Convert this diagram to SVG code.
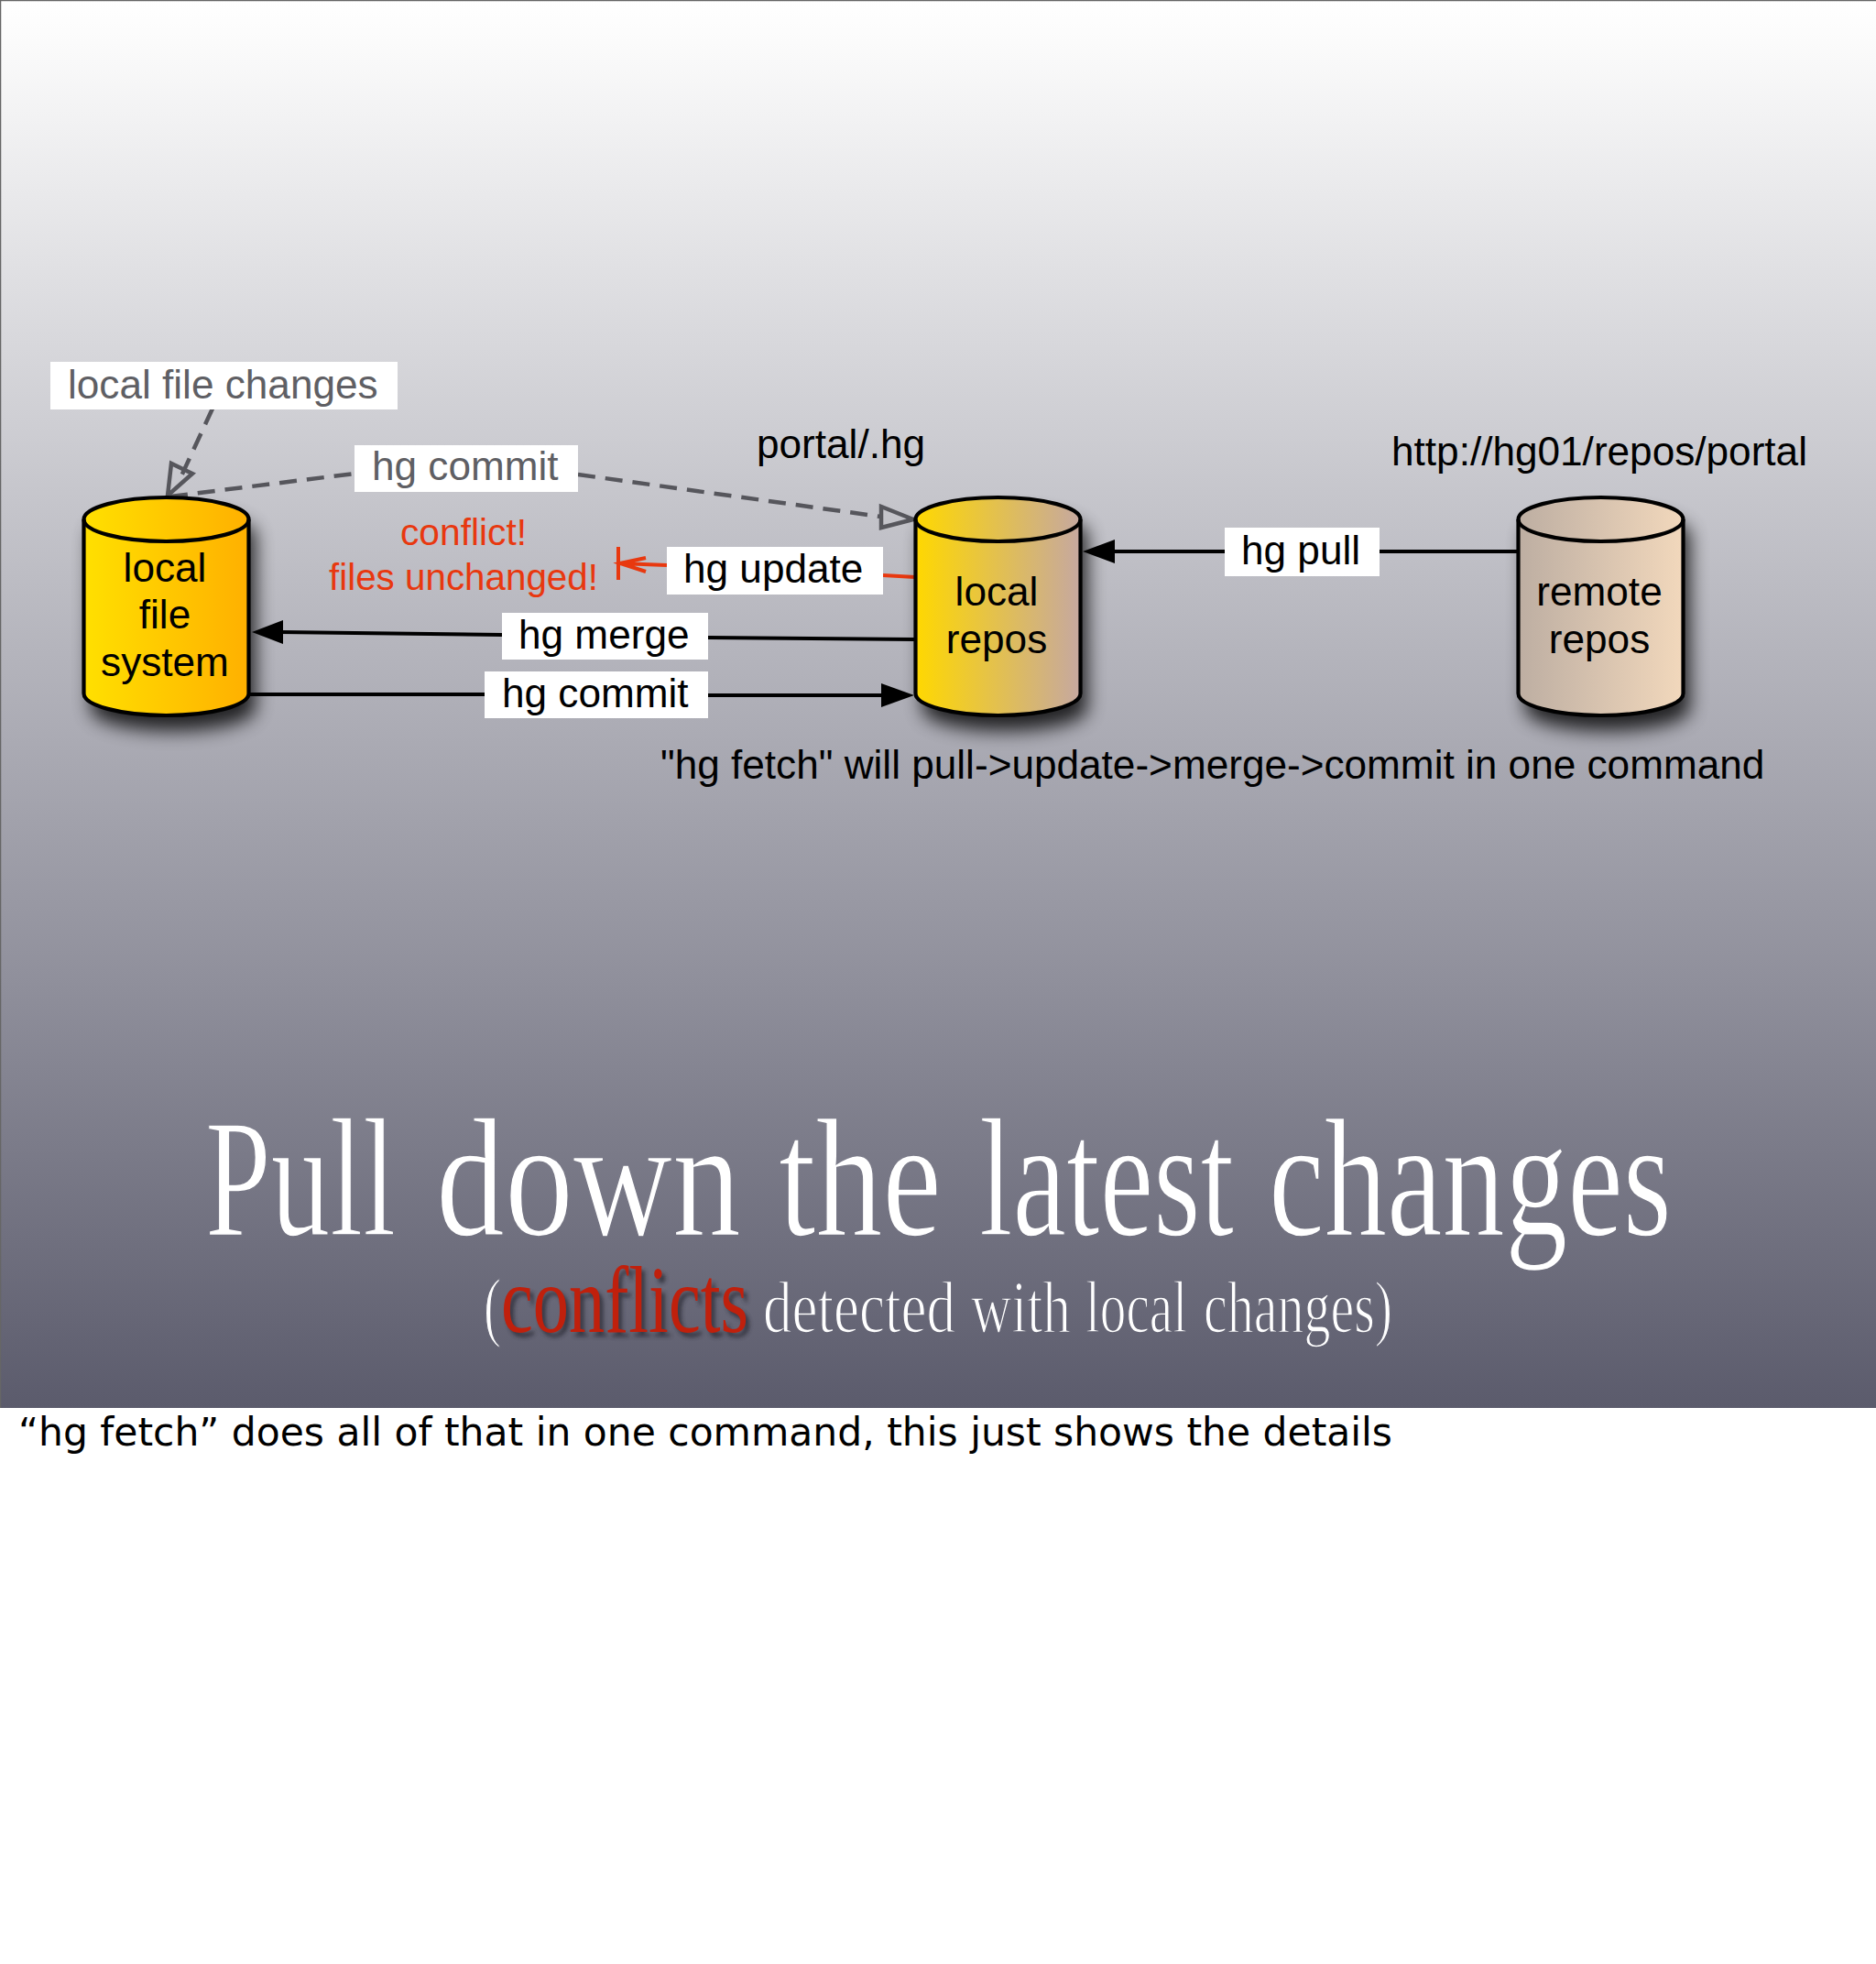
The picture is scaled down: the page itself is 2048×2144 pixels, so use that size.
<svg xmlns="http://www.w3.org/2000/svg" width="2048" height="2144" viewBox="0 0 2048 2144">
<style>
.l{font-family:"Liberation Sans",Arial,sans-serif;font-size:44.15px;fill:#000}
.g{fill:#5f5f64}
.r{fill:#e8380f;font-size:41px}
.m{text-anchor:middle}
.lb{fill:#fff}
.cy{stroke:#000;stroke-width:4.200}
.k{fill:none;stroke:#000;stroke-width:4}
.d{fill:none;stroke:#56565c;stroke-width:4.500;stroke-dasharray:19 11}
.t{font-family:"Liberation Serif",serif;fill:#fff;stroke:url(#bgu);stroke-width:1.600}
.s{font-family:"Liberation Serif",serif}
</style>
<defs>
<linearGradient id="bg" x1="0" y1="0" x2="0" y2="1">
<stop offset="0" stop-color="#ffffff"/><stop offset="0.03" stop-color="#fbfbfb"/><stop offset="0.35" stop-color="#c6c6cc"/><stop offset="0.7" stop-color="#8f8f9b"/><stop offset="1" stop-color="#5b5b6c"/>
</linearGradient>
<linearGradient id="bgu" gradientUnits="userSpaceOnUse" x1="0" y1="0" x2="0" y2="1537">
<stop offset="0" stop-color="#ffffff"/><stop offset="0.03" stop-color="#fbfbfb"/><stop offset="0.35" stop-color="#c6c6cc"/><stop offset="0.7" stop-color="#8f8f9b"/><stop offset="1" stop-color="#5b5b6c"/>
</linearGradient>
<linearGradient id="c1"><stop offset="0" stop-color="#ffe000"/><stop offset="1" stop-color="#ffb000"/></linearGradient>
<linearGradient id="c2"><stop offset="0" stop-color="#ffd800"/><stop offset="1" stop-color="#c6a8a0"/></linearGradient>
<linearGradient id="c3"><stop offset="0" stop-color="#bdaea2"/><stop offset="1" stop-color="#f2d8bc"/></linearGradient>
<filter id="sh" x="-30%" y="-30%" width="170%" height="160%"><feGaussianBlur stdDeviation="10"/></filter>
<filter id="ts" x="-10%" y="-30%" width="120%" height="170%"><feGaussianBlur stdDeviation="2"/></filter>
<path id="cyl" d="M0 24V214C0 227 40 238 90 238S180 227 180 214V24C180 11 140 0 90 0S0 11 0 24Z"/>
</defs>
<rect width="2048" height="2144" fill="#fff"/>
<rect width="2048" height="1537" fill="url(#bg)"/>
<path d="M0.500 1537V0.500H2048" fill="none" stroke="#666" stroke-width="1.500"/>

<g id="connectors">
<path class="d" d="M232 446L195 526"/>
<path d="M183 541L187 506L210 517Z" fill="none" stroke="#56565c" stroke-width="4.500"/>
<path class="d" d="M186 542L387 517"/>
<path class="d" d="M631 518L962 564"/>
<path d="M997 567L962 553L962 576Z" fill="none" stroke="#56565c" stroke-width="4.500"/>
<path d="M675 597V633M728 617L677 615M705 609L677 615L705 624" fill="none" stroke="#e8380f" stroke-width="4"/>
<path d="M964 628L999 630" fill="none" stroke="#e8380f" stroke-width="4"/>
<path class="k" d="M999 698L773 696"/>
<path class="k" d="M548 693L305 690"/>
<path d="M275 690L309 677V703Z"/>
<path class="k" d="M273 758H529"/>
<path class="k" d="M773 759H965"/>
<path d="M998 759L962 746V772Z"/>
<path class="k" d="M1657 602H1506"/>
<path class="k" d="M1337 602H1215"/>
<path d="M1182 602L1217 589V615Z"/>
</g>

<g id="local-file-system">
<use href="#cyl" x="99" y="560" fill="#000" opacity=".8" filter="url(#sh)"/>
<use href="#cyl" x="91.500" y="543" fill="url(#c1)" class="cy"/>
<path d="M91.500 567C91.500 580 131.500 591 181.500 591S271.500 580 271.500 567" fill="none" class="cy"/>
<text class="l m" x="180" y="635">local</text>
<text class="l m" x="180" y="686">file</text>
<text class="l m" x="180" y="738">system</text>
</g>
<g id="local-repos">
<use href="#cyl" x="1007" y="560" fill="#000" opacity=".8" filter="url(#sh)"/>
<use href="#cyl" x="999.500" y="543" fill="url(#c2)" class="cy"/>
<path d="M999.500 567C999.500 580 1039.500 591 1089.500 591S1179.500 580 1179.500 567" fill="none" class="cy"/>
<text class="l m" x="1088" y="661">local</text>
<text class="l m" x="1088" y="713">repos</text>
</g>
<g id="remote-repos">
<use href="#cyl" x="1665" y="560" fill="#000" opacity=".8" filter="url(#sh)"/>
<use href="#cyl" x="1657.500" y="543" fill="url(#c3)" class="cy"/>
<path d="M1657.500 567C1657.500 580 1697.500 591 1747.500 591S1837.500 580 1837.500 567" fill="none" class="cy"/>
<text class="l m" x="1746" y="661">remote</text>
<text class="l m" x="1746" y="713">repos</text>
</g>

<g id="label-local-file-changes"><rect class="lb" x="55" y="395" width="379" height="52"/><text class="l g" x="74" y="435">local file changes</text></g>
<g id="label-hg-commit-gray"><rect class="lb" x="387" y="486" width="244" height="51"/><text class="l g" x="406" y="524">hg commit</text></g>
<g id="label-hg-update"><rect class="lb" x="728" y="597" width="236" height="52"/><text class="l" x="746" y="636">hg update</text></g>
<g id="label-hg-merge"><rect class="lb" x="548" y="669" width="225" height="51"/><text class="l" x="566" y="708">hg merge</text></g>
<g id="label-hg-commit"><rect class="lb" x="529" y="733" width="244" height="51"/><text class="l" x="548" y="772">hg commit</text></g>
<g id="label-hg-pull"><rect class="lb" x="1337" y="576" width="169" height="53"/><text class="l" x="1355" y="616">hg pull</text></g>

<g id="annotations">
<text class="l r m" x="506" y="595" textLength="138" lengthAdjust="spacingAndGlyphs">conflict!</text>
<text class="l r" x="359" y="644" textLength="294" lengthAdjust="spacingAndGlyphs">files unchanged!</text>
<text class="l" x="826" y="500">portal/.hg</text>
<text class="l" x="1519" y="508">http://hg01/repos/portal</text>
<text class="l" x="721" y="850">"hg fetch" will pull-&gt;update-&gt;merge-&gt;commit in one command</text>
</g>

<g id="title">
<text class="t" y="1348" font-size="185"><tspan x="224" textLength="208" lengthAdjust="spacingAndGlyphs">Pull</tspan> <tspan x="476" textLength="333" lengthAdjust="spacingAndGlyphs">down</tspan> <tspan x="850" textLength="178" lengthAdjust="spacingAndGlyphs">the</tspan> <tspan x="1069" textLength="278" lengthAdjust="spacingAndGlyphs">latest</tspan> <tspan x="1385" textLength="440" lengthAdjust="spacingAndGlyphs">changes</tspan></text>
<text class="t" x="528" y="1454" font-size="84" textLength="19" lengthAdjust="spacingAndGlyphs">(</text>
<text class="s" x="551" y="1459" font-size="104" textLength="270" lengthAdjust="spacingAndGlyphs" fill="#2c2c34" opacity=".75" filter="url(#ts)">conflicts</text>
<text class="s" x="547" y="1454" font-size="104" textLength="270" lengthAdjust="spacingAndGlyphs" fill="#c0200c">conflicts</text>
<text class="t" y="1454" font-size="80"><tspan x="833" textLength="210" lengthAdjust="spacingAndGlyphs">detected</tspan> <tspan x="1060" textLength="109" lengthAdjust="spacingAndGlyphs">with</tspan> <tspan x="1185" textLength="111" lengthAdjust="spacingAndGlyphs">local</tspan> <tspan x="1314" textLength="206" lengthAdjust="spacingAndGlyphs">changes)</tspan></text>
</g>
<text x="20" y="1578" font-size="42" textLength="1500" lengthAdjust="spacingAndGlyphs" style="font-family:'DejaVu Sans',sans-serif" fill="#000">“hg fetch” does all of that in one command, this just shows the details</text>
</svg>
